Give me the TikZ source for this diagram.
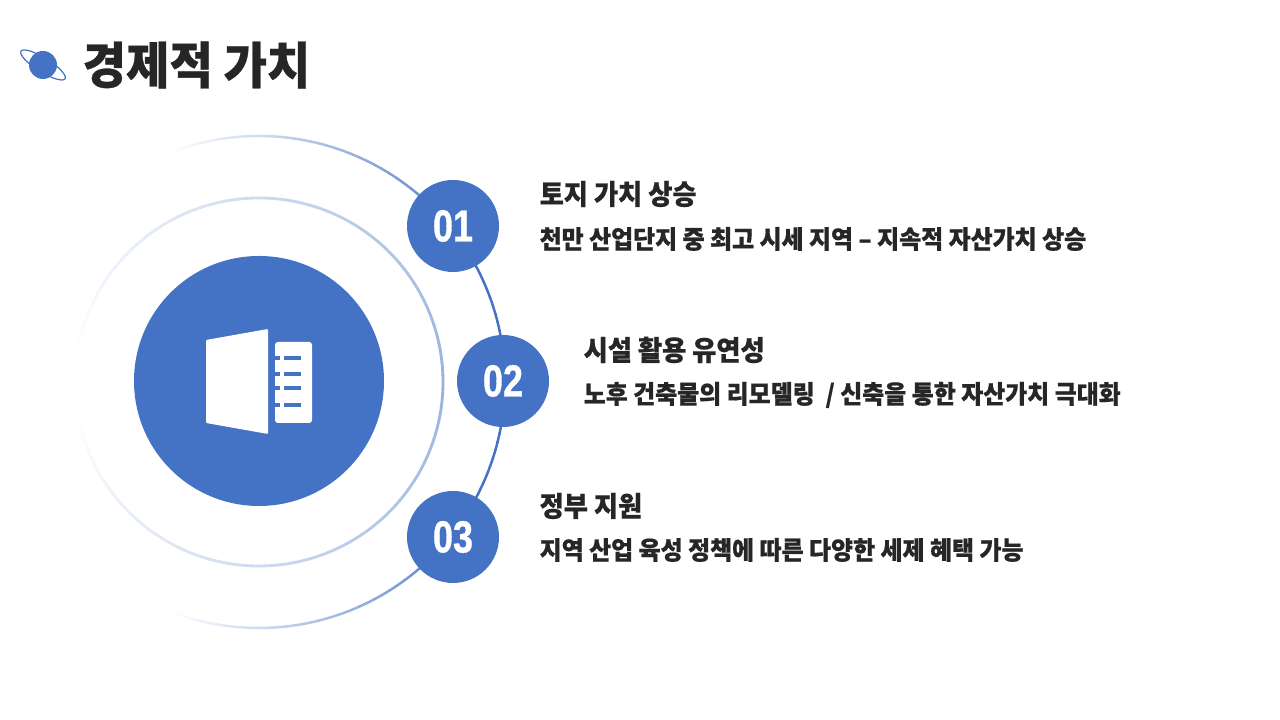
\documentclass[tikz,border=0pt]{standalone}
\usepackage{fontspec}
\usetikzlibrary{positioning}
\newfontfamily\krfont[FakeStretch=0.945,FakeBold=0.6]{Noto Sans CJK KR Black}
\newfontfamily\numfont[FakeStretch=0.8,FakeBold=0.8]{Liberation Sans Bold}
\definecolor{ringblue}{HTML}{4472C4}
\definecolor{inkgray}{HTML}{262626}
\tikzset{
  numdot/.style={circle, fill=ringblue, minimum size=0.92cm, inner sep=0pt, text=white, font=\numfont\fontsize{12.8}{14}\selectfont},
  headtext/.style={anchor=west, inner sep=0pt, text=inkgray, font=\krfont\fontsize{7.9}{9}\selectfont},
  bodytext/.style={anchor=west, inner sep=0pt, text=inkgray, font=\krfont\fontsize{7.2}{9}\selectfont}
}
\begin{document}
\begin{tikzpicture}
  \useasboundingbox (0,0) rectangle (12.8,7.2);
  % fading rings
  \coordinate (hub) at (2.59,3.39);
  \coordinate (ringhub) at (2.59,3.38);
  \foreach \a in {0,2,...,110} {
    \pgfmathsetmacro{\mixval}{\a<30 ? 100 : 100*(110-\a)/80}
    \draw[ringblue!\mixval!white, line width=0.7pt] (ringhub) ++(\a:2.46) arc[start angle=\a, end angle=\a+2.2, radius=2.46];
    \draw[ringblue!\mixval!white, line width=0.7pt] (ringhub) ++(-\a:2.46) arc[start angle=-\a, end angle=-\a-2.2, radius=2.46];
  }
  \foreach \a in {0,2,...,168} {
    \pgfmathsetmacro{\mixval}{55*(170-\a)/170}
    \draw[ringblue!\mixval!white, line width=0.8pt] (ringhub) ++(\a:1.84) arc[start angle=\a, end angle=\a+2.2, radius=1.84];
    \draw[ringblue!\mixval!white, line width=0.8pt] (ringhub) ++(-\a:1.84) arc[start angle=-\a, end angle=-\a-2.2, radius=1.84];
  }
  \node[circle, fill=ringblue, minimum size=2.5cm, inner sep=0pt] (core) at (hub) {};
  % book icon
  \fill[white, rounded corners=0.3pt] (2.06,3.80) -- (2.68,3.91) -- (2.68,2.86) -- (2.06,2.97) -- cycle;
  \fill[white, rounded corners=0.8pt] (2.75,3.78) -- (3.12,3.78) -- (3.12,2.97) -- (2.75,2.97) -- cycle;
  \foreach \y in {3.62,3.46,3.32,3.15} {
    \fill[ringblue] (2.75,\y-0.02) rectangle (2.80,\y+0.02);
    \fill[ringblue] (2.84,\y-0.02) rectangle (3.01,\y+0.02);
  }
  % number dots
  \node[numdot] (n1) at (4.53,4.94) {01};
  \node[numdot] (n2) at (5.03,3.39) {02};
  \node[numdot] (n3) at (4.53,1.83) {03};
  % title
  \draw[ringblue, line width=0.35pt, rotate around={-32:(0.43,6.55)}] (0.43,6.55) ellipse (0.26 and 0.07);
  \node[circle, fill=ringblue, minimum size=0.28cm, inner sep=0pt] (planet) at (0.43,6.55) {};
  \node[anchor=west, inner sep=0pt, text=inkgray, font=\krfont\fontsize{14.2}{16}\selectfont] (title) at (0.82,6.55) {경제적 가치};
  % texts
  \node[headtext] (head1) at (5.39,5.26) {토지 가치 상승};
  \node[bodytext, below=0.45cm of head1.west, anchor=west] (body1) {천만 산업단지 중 최고 시세 지역 – 지속적 자산가치 상승};
  \node[headtext] (head2) at (5.83,3.70) {시설 활용 유연성};
  \node[bodytext, below=0.45cm of head2.west, anchor=west] (body2) {노후 건축물의 리모델링~~/ 신축을 통한 자산가치 극대화};
  \node[headtext] (head3) at (5.39,2.14) {정부 지원};
  \node[bodytext, below=0.44cm of head3.west, anchor=west] (body3) {지역 산업 육성 정책에 따른 다양한 세제 혜택 가능};
\end{tikzpicture}
\end{document}
